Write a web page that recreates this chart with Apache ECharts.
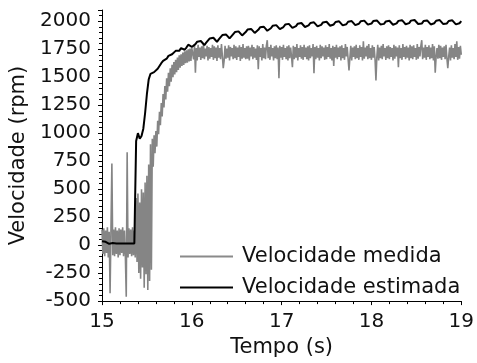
<!DOCTYPE html>
<html><head><meta charset="utf-8">
<script src="https://cdn.jsdelivr.net/npm/echarts@6/dist/echarts.min.js"></script>
<style>html,body{margin:0;padding:0;background:#fff}#c{width:477px;height:363px}</style>
</head><body><div id="c"></div>
<script>
const seriesNames = ['Velocidade medida', 'Velocidade estimada'];
const xTicks = [15, 16, 17, 18, 19];
const yTicks = [-500, -250, 0, 250, 500, 750, 1000, 1250, 1500, 1750, 2000];
const xTitle = 'Tempo (s)';
const yTitle = 'Velocidade (rpm)';

// measured speed, sampled every 0.01 s from 15.00 s
const measuredStart = 15, measuredStep = 0.01;
const measured = [
 140,-80,150,-100,130,-70,160,-110,120,-430,150,730,-90,140,-100,160,-80,130,-110,150,
 -90,140,-70,160,-100,130,-90,-460,830,-110,150,-80,140,-100,160,-90,130,-110,
 420,-150,460,-250,380,-300,500,-200,470,-380,560,-260,620,-400,720,-320,900,-220,
 950,700,980,820,1020,880,1110,990,1190,1070,1270,1150,1350,1230,1420,1300,1490,1370,1540,1420,
 1580,1460,1610,1500,1635,1525,1655,1545,1675,1565,1695,1585,1705,1600,1720,1610,1730,1625,1740,1630,
 1750,1640,1755,1645,1760,
 1770,1660,1785,1540,1760,1650,1790,1680,1765,1655,1775,1670,1795,1660,1755,1685,1780,1650,1770,1665,
 1760,1680,1790,1655,1775,1670,1765,1645,1785,1675,1760,1660,1795,1690,1580,1650,1780,1665,1755,1675,
 1785,1650,1770,1685,1760,1660,1790,1670,1775,1655,1765,1680,1785,1645,1770,1665,1795,1675,1760,1660,
 1775,1665,1780,1650,1765,1685,1790,1660,1770,1675,1755,1655,1785,1570,1775,1680,1760,1650,1795,1670,
 1765,1660,1780,1830,1670,1770,1655,1790,1685,1760,1650,1775,1670,1785,1660,1765,1490,1780,1675,1770,
 1655,1790,1680,1760,1660,1775,1650,1785,1670,1765,1685,1590,1780,1660,1770,1675,1795,1650,1760,1680,
 1785,1665,1770,1655,1790,1680,1765,1660,1775,1650,1785,1670,1760,1685,1795,1535,1770,1660,1780,1675,
 1760,1650,1790,1670,1775,1685,1765,1655,1785,1660,1770,1680,1795,1665,1760,1650,1780,1600,1770,1675,
 1790,1660,1765,1680,1775,1650,1785,1670,1760,1655,1795,1685,1770,1665,1560,1675,1780,1650,1765,1680,
 1775,1660,1790,1670,1760,1655,1785,1680,1770,1650,1820,1665,1765,1685,1780,1660,1795,1670,1760,1655,
 1785,1675,1770,1660,1470,1680,1790,1650,1765,1670,1780,1660,1795,1685,1760,1655,1775,1670,1785,1660,
 1770,1680,1760,1650,1790,1665,1775,1685,1765,1590,1785,1670,1760,1655,1795,1680,1770,1660,1780,1675,
 1765,1650,1790,1670,1775,1660,1785,1680,1760,1655,1795,1665,1770,1685,1780,1830,1660,1765,1675,1790,
 1655,1770,1680,1785,1660,1765,1670,1795,1650,1775,1540,1685,1760,1665,1790,1670,1780,1655,1765,1680,
 1775,1660,1790,1670,1580,1685,1765,1650,1785,1675,1760,1660,1795,1680,1820,1655,1770,1665,1780,1700
];

// estimated speed, sampled every 0.02 s from 15.00 s
const estimatedStart = 15, estimatedStep = 0.02;
const estimated = [
 35,20,30,15,12,15,18,15,15,15,15,15,15,30,15,15,15,15,15,
 930,1000,950,975,1040,1180,1350,1480,1530,1540,1545,1560,1575,1600,1625,1645,
 1655,1665,1690,1700,1705,1720,1735,1725,1735,1760,1755,1745,1765,1790,1785,1770,
 1779,1795,1817,1833,1823,1805,1787,
 1808,1824,1846,1862,1852,1834,1816,
 1838,1854,1876,1892,1882,1864,1846,
 1865,1881,1903,1919,1909,1891,1873,
 1887,1903,1925,1941,1931,1913,1895,
 1907,1923,1945,1961,1951,1933,1915,
 1921,1937,1959,1975,1965,1947,1929,
 1932,1948,1970,1986,1976,1958,1940,
 1940,1956,1978,1994,1984,1966,1948,
 1946,1962,1984,2000,1990,1972,1954,
 1951,1967,1989,2005,1995,1977,1959,
 1955,1971,1993,2009,1999,1981,1963,
 1957,1973,1995,2011,2001,1983,1965,
 1961,1977,1999,2015,2005,1987,1969,
 1963,1979,2001,2017,2007,1989,1971,
 1960,1976,1998,2014,2004,1986,1968,
 1965,1981,2003,2019,2009,1991,1973,
 1967,1983,2005,2021,2011,1993,1975,
 1963,1979,2001,2017,2007,1989,1971,
 1966,1982,2004,2020,2010,1992,1974,
 1964,1980,2002,2018,2008,1990,1972,
 1966,1982,2000
];

const toPairs = (start, step, vals) => vals.map((v, i) => [+(start + i * step).toFixed(3), v]);

const FONT = 'DejaVu Sans';
const TXT = '#111';
const chart = echarts.init(document.getElementById('c'), null, {renderer: 'canvas'});
chart.setOption({
  animation: false,
  backgroundColor: '#fff',
  grid: {left: 102, right: 14, top: 10, bottom: 61, containLabel: false},
  legend: {
    orient: 'vertical', left: 175, top: 241,
    icon: 'rect', itemWidth: 53, itemHeight: 2, itemGap: 10,
    textStyle: {fontFamily: FONT, fontSize: 21, color: TXT, padding: [0, 0, 0, 4]},
    data: seriesNames
  },
  xAxis: {
    type: 'value', min: xTicks[0], max: xTicks[xTicks.length - 1], interval: 1,
    name: xTitle, nameLocation: 'middle', nameGap: 20,
    nameTextStyle: {fontFamily: FONT, fontSize: 21, color: TXT},
    axisLine: {show: true, onZero: false, lineStyle: {color: '#000', width: 1}},
    axisTick: {show: true, inside: false, length: 4, lineStyle: {color: '#000'}},
    minorTick: {show: true, splitNumber: 5, length: 3, lineStyle: {color: '#000'}},
    splitLine: {show: false},
    axisLabel: {fontFamily: FONT, fontSize: 20, color: TXT, margin: 11}
  },
  yAxis: {
    type: 'value', min: -500, max: 2100, interval: 250,
    name: yTitle, nameLocation: 'middle', nameGap: 70, nameRotate: 90,
    nameTextStyle: {fontFamily: FONT, fontSize: 21, color: TXT},
    axisLine: {show: true, onZero: false, lineStyle: {color: '#000', width: 1}},
    axisTick: {show: true, inside: false, length: 4, lineStyle: {color: '#000'}},
    minorTick: {show: true, splitNumber: 5, length: 3, lineStyle: {color: '#000'}},
    splitLine: {show: false},
    axisLabel: {fontFamily: FONT, fontSize: 20, color: TXT, margin: 11,
      formatter: v => (yTicks.indexOf(v) >= 0 ? String(v) : '')}
  },
  series: [
    {
      name: seriesNames[0], type: 'line', symbol: 'none', z: 2,
      data: toPairs(measuredStart, measuredStep, measured),
      lineStyle: {color: '#858585', width: 1.6}, itemStyle: {color: '#8a8a8a'}
    },
    {
      name: seriesNames[1], type: 'line', symbol: 'none', z: 3,
      data: toPairs(estimatedStart, estimatedStep, estimated),
      lineStyle: {color: '#000', width: 2}, itemStyle: {color: '#000'}
    }
  ]
});
</script></body></html>
